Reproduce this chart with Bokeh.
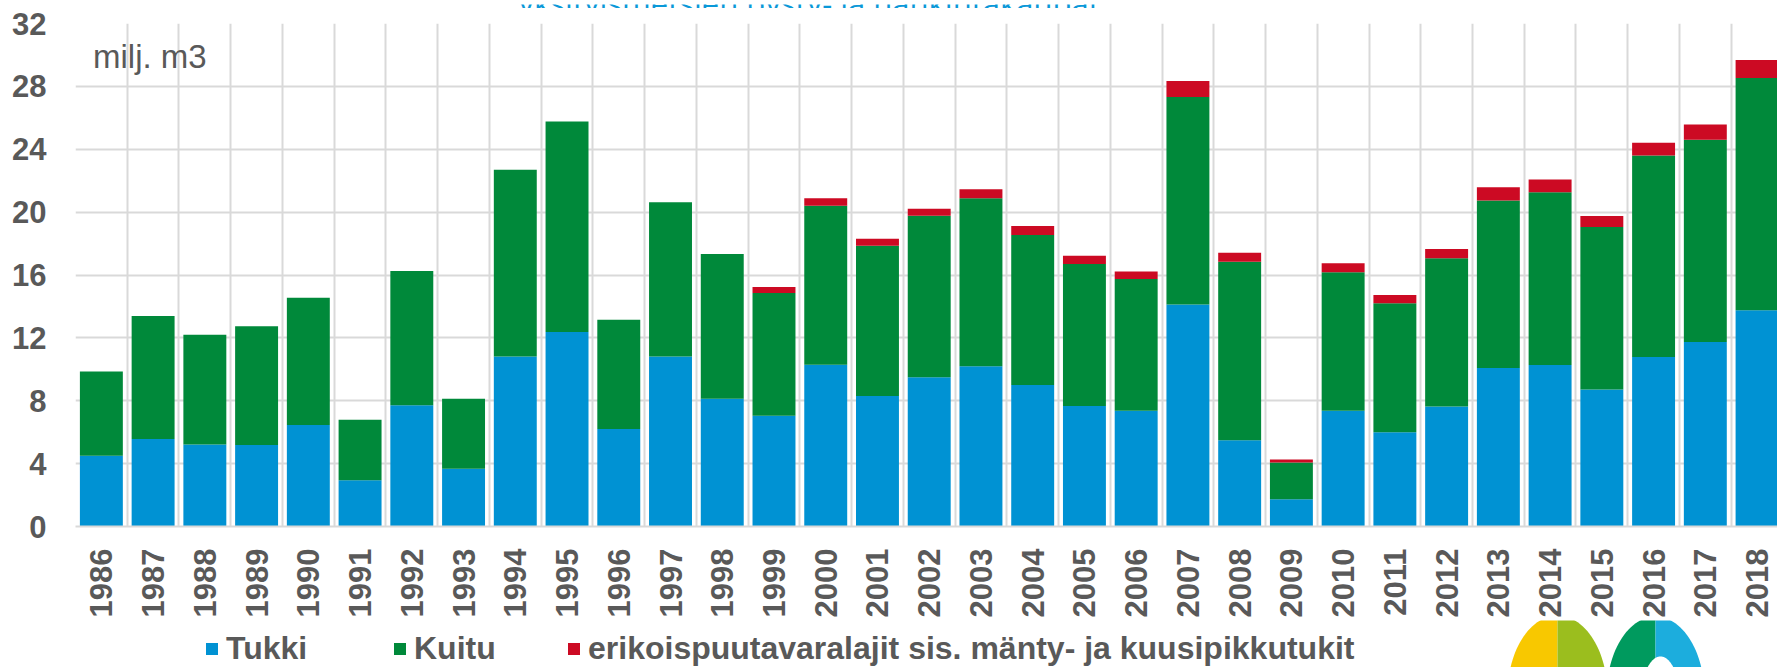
import math
import numpy as np
from bokeh.plotting import figure
from bokeh.layouts import column
from bokeh.models import (ColumnDataSource, Range1d, FixedTicker, Legend, LegendItem, Label)
from bokeh.embed import file_html
from bokeh.resources import INLINE

# ---------------- data ----------------
years = [str(y) for y in range(1986, 2019)]
tukki = [4.50, 5.57, 5.21, 5.19, 6.45, 2.94, 7.72, 3.68, 10.81, 12.38, 6.21, 10.82, 8.13,
         7.04, 10.29, 8.30, 9.49, 10.20, 9.00, 7.67, 7.37, 14.13, 5.49, 1.73, 7.36, 5.99,
         7.64, 10.08, 10.27, 8.71, 10.78, 11.73, 13.76]
kuitu = [5.36, 7.82, 6.99, 7.55, 8.10, 3.85, 8.53, 4.44, 11.89, 13.38, 6.95, 9.81, 9.20,
         7.82, 10.11, 9.56, 10.28, 10.69, 9.54, 9.03, 8.37, 13.20, 11.35, 2.34, 8.81, 8.21,
         9.43, 10.66, 10.99, 10.34, 12.82, 12.88, 14.77]
erikois = [0, 0, 0, 0, 0, 0, 0, 0, 0, 0, 0, 0, 0,
           0.38, 0.49, 0.45, 0.44, 0.57, 0.57, 0.53, 0.49, 1.01, 0.57, 0.19, 0.57, 0.53,
           0.59, 0.84, 0.82, 0.70, 0.82, 0.97, 1.15]
y_ticks = [0, 4, 8, 12, 16, 20, 24, 28, 32]
series_names = ["Tukki", "Kuitu", "erikoispuutavaralajit sis. mänty- ja kuusipikkutukit"]
unit_text = "milj. m3"
title_text = "yksityismetsien pysty- ja hankintakaupat"

# ---------------- style / layout ----------------
colors = ["#0092D3", "#00893A", "#CC0A23"]
GRAY = "#595959"
GRID = "#D9D9D9"
FONT = "Liberation Sans"
W = 1777
TOP_H, MAIN_H = 8, 612            # page rows 0..8 title strip, 8..620 chart
LEG_TOP, PAGE_H = TOP_H + MAIN_H, 667
LEG_H = PAGE_H - LEG_TOP
FRAME_L, FRAME_T, FRAME_B = 75, 23, 527   # page pixels
TEXT_SHIFT = 6                    # rendered baseline sits this much lower


def strip(height, y0, y1):
    fig = figure(width=W, height=height, output_backend="svg", toolbar_location=None,
                 x_range=Range1d(FRAME_L, W), y_range=Range1d(y1, y0),
                 x_axis_location=None, y_axis_location=None,
                 min_border=0, min_border_left=FRAME_L)
    fig.outline_line_color = None
    fig.grid.visible = False
    fig.background_fill_color = "white"
    fig.border_fill_color = "white"
    return fig


# ---- title strip (the title is cut by the top edge) ----
top = strip(TOP_H, 0, TOP_H)
top.add_layout(Label(x=518, y=4.7 - TEXT_SHIFT, text=title_text, text_font="Open Sans",
                     text_font_size="31px", text_color="#0A98D8",
                     text_baseline="alphabetic"))

# ---- main chart ----
xs = list(range(len(years)))
src = ColumnDataSource(dict(x=xs, tukki=tukki, kuitu=kuitu, erikois=erikois))

p = figure(width=W, height=MAIN_H, output_backend="svg", toolbar_location=None,
           x_range=Range1d(-0.5, 32.395), y_range=Range1d(0, 32),
           min_border_left=FRAME_L, min_border_right=0,
           min_border_top=FRAME_T - TOP_H,
           min_border_bottom=TOP_H + MAIN_H - FRAME_B)
p.outline_line_color = None
p.background_fill_color = "white"
p.border_fill_color = "white"

rs = p.vbar_stack(["tukki", "kuitu", "erikois"], x="x", width=0.83, source=src,
                  fill_color=colors, line_color=None)

p.xgrid.ticker = FixedTicker(ticks=[i - 0.5 for i in range(len(years) + 1)])
p.ygrid.ticker = FixedTicker(ticks=y_ticks)
for g in (p.xgrid, p.ygrid):
    g.grid_line_color = GRID
    g.grid_line_width = 2

p.xaxis.ticker = FixedTicker(ticks=xs)
p.xaxis.major_label_overrides = {i: y for i, y in zip(xs, years)}
p.xaxis.major_label_orientation = math.pi / 2
p.xaxis.major_label_standoff = 22
p.xaxis.axis_line_color = GRID
p.xaxis.axis_line_width = 2
p.yaxis.ticker = FixedTicker(ticks=y_ticks)
p.yaxis.major_label_standoff = 29
p.yaxis.axis_line_color = None
for ax in (p.xaxis, p.yaxis):
    ax.major_tick_line_color = None
    ax.minor_tick_line_color = None
    ax.major_tick_out = 0
    ax.major_tick_in = 0
    ax.major_label_text_font = FONT
    ax.major_label_text_font_style = "bold"
    ax.major_label_text_font_size = "31px"
    ax.major_label_text_color = GRAY

p.add_layout(Label(x=92.5 - FRAME_L, y=FRAME_B - (63 - TEXT_SHIFT),
                   x_units="screen", y_units="screen",
                   text=unit_text, text_font=FONT, text_font_size="33px",
                   text_color=GRAY, text_baseline="alphabetic"))

# ---- legend strip with logo ----
leg = strip(LEG_H, LEG_TOP, PAGE_H)

def half_ellipse(cx, cy, rx, ry, side):
    t = np.linspace(math.pi / 2, 3 * math.pi / 2, 60) if side == "left" else \
        np.linspace(-math.pi / 2, math.pi / 2, 60)
    return list(cx + rx * np.cos(t)), list(cy - ry * np.sin(t))

for cx, cy, rx, ry, cl, cr in [(1557, 694, 50, 79, "#F8C800", "#9BBE1E"),
                               (1655, 695, 49, 79, "#009A5E", "#1CADDD")]:
    for side, c in (("left", cl), ("right", cr)):
        hx, hy = half_ellipse(cx, cy, rx, ry, side)
        leg.patch(hx, hy, fill_color=c, line_color=None)
hx, hy = half_ellipse(1660, 702, 20, 46, "left")
hx2, hy2 = half_ellipse(1660, 702, 20, 46, "right")
leg.patch(hx + hx2, hy + hy2, fill_color="white", line_color=None)

# legend keys: zero-height bars outside the visible range carry the colours
key_src = ColumnDataSource(dict(x=[0], top=[PAGE_H], bottom=[PAGE_H]))
legend_x = [204, 392, 566]
for name, c, lx in zip(series_names, colors, legend_x):
    r = leg.vbar(x="x", top="top", bottom="bottom", width=1, source=key_src,
                 fill_color=c, line_color=None)
    lg = Legend(items=[LegendItem(label=name, renderers=[r])],
                location=(lx - FRAME_L, 0),
                orientation="horizontal", glyph_width=15, glyph_height=15,
                label_standoff=7, padding=0, margin=0, spacing=0,
                border_line_color=None, background_fill_alpha=0,
                label_text_font=FONT, label_text_font_style="bold",
                label_text_font_size="32px", label_text_color=GRAY)
    leg.add_layout(lg, "center")

layout = column(top, p, leg, spacing=0)
layout.styles = {"position": "absolute", "left": "0px", "top": "0px"}

open("out.html", "w").write(file_html(layout, INLINE))
